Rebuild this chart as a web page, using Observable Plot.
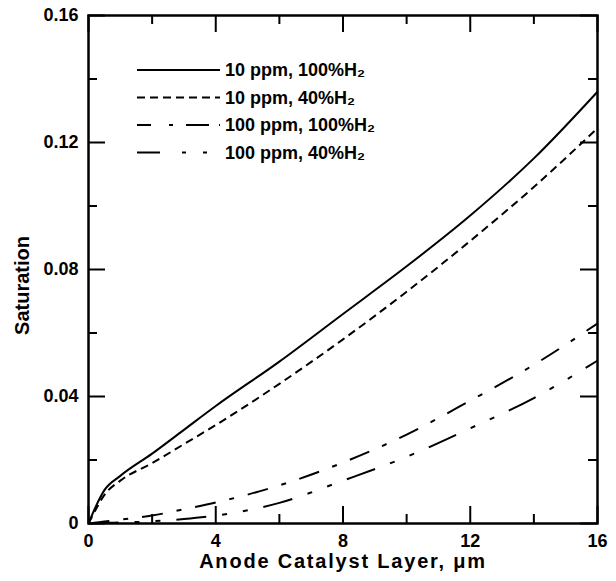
<!DOCTYPE html>
<html>
<head>
<meta charset="utf-8">
<script src="https://cdn.jsdelivr.net/npm/d3@7"></script>
<script src="https://cdn.jsdelivr.net/npm/@observablehq/plot@0.6"></script>
<style>
  body { margin: 0; background: #fff; }
  svg { display: block; }
</style>
</head>
<body>
<div id="chart"></div>
<script>
// Position through the anode catalyst layer (µm)
const depth = [0, 0.25, 0.5, 1, 2, 3, 4, 6, 8, 10, 12, 14, 16];

// Liquid saturation for each CO level / hydrogen dilution
const sat10ppm100 = [0, 0.0058, 0.0105, 0.0150, 0.0220, 0.0295, 0.0370, 0.0510, 0.0660, 0.0810, 0.0970, 0.1150, 0.1360];
const sat10ppm40  = [0, 0.0048, 0.0090, 0.0135, 0.0190, 0.0250, 0.0310, 0.0440, 0.0580, 0.0730, 0.0890, 0.1060, 0.1245];
const sat100ppm100 = [0, 0.0003, 0.0006, 0.0012, 0.0025, 0.0045, 0.0066, 0.0120, 0.0192, 0.0280, 0.0387, 0.0500, 0.0630];
const sat100ppm40  = [0, 0.0001, 0.0002, 0.0003, 0.0007, 0.0014, 0.0025, 0.0065, 0.0135, 0.0210, 0.0300, 0.0395, 0.0513];

const seriesLabels = ["10 ppm, 100%H₂", "10 ppm, 40%H₂", "100 ppm, 100%H₂", "100 ppm, 40%H₂"];
const seriesValues = [sat10ppm100, sat10ppm40, sat100ppm100, sat100ppm40];
const dashPatterns = [null, "8,5", "21,14,5,14", "30,16,5,16,5,16"];
const legendDashes = [null, "8,5", "14,18,4,13,23,10", "23,22,4,17,4,20"];

// Axis ticks
const xMajor = [0, 4, 8, 12, 16];
const xMinor = [2, 6, 10, 14];
const yMajor = [0, 0.04, 0.08, 0.12, 0.16];
const yMinor = [0.02, 0.06, 0.10, 0.14];

const W = 616, H = 581;
const margin = {top: 15, right: 19, bottom: 58, left: 88};
const innerW = W - margin.left - margin.right;
const innerH = H - margin.top - margin.bottom;
const font = "'Liberation Sans', Arial, Helvetica, sans-serif";
const majorLen = 17, minorLen = 9;

const rows = seriesLabels.map((label, i) =>
  depth.map((x, j) => ({x, y: seriesValues[i][j], series: label}))
);

// Legend drawn inside the frame, top-left
function legend(index, scales, values, dimensions) {
  const g = d3.create("svg:g")
    .attr("font-family", font)
    .attr("font-weight", "bold")
    .attr("font-size", 18)
    .attr("text-anchor", "start");
  const x0 = dimensions.marginLeft + 49;
  seriesLabels.forEach((label, i) => {
    const y = dimensions.marginTop + 55 + i * 27.5;
    g.append("line")
      .attr("x1", x0).attr("x2", x0 + 83)
      .attr("y1", y).attr("y2", y)
      .attr("stroke", "#000")
      .attr("stroke-width", 2)
      .attr("stroke-dasharray", legendDashes[i]);
    g.append("text")
      .attr("x", x0 + 88).attr("y", y)
      .attr("dy", "0.36em")
      .attr("text-anchor", "start")
      .attr("fill", "#000")
      .text(label);
  });
  return g.node();
}

const chart = Plot.plot({
  width: W,
  height: H,
  marginTop: margin.top,
  marginRight: margin.right,
  marginBottom: margin.bottom,
  marginLeft: margin.left,
  style: {fontFamily: font, background: "#fff", color: "#000"},
  x: {domain: [0, 16]},
  y: {domain: [0, 0.16]},
  marks: [
    // inward ticks on all four sides
    Plot.ruleX(xMajor, {insetTop: innerH - majorLen, stroke: "#000", strokeWidth: 2}),
    Plot.ruleX(xMinor, {insetTop: innerH - minorLen, stroke: "#000", strokeWidth: 2}),
    Plot.ruleX(xMajor, {insetBottom: innerH - majorLen, stroke: "#000", strokeWidth: 2}),
    Plot.ruleX(xMinor, {insetBottom: innerH - minorLen, stroke: "#000", strokeWidth: 2}),
    Plot.ruleY(yMajor, {insetRight: innerW - majorLen, stroke: "#000", strokeWidth: 2}),
    Plot.ruleY(yMinor, {insetRight: innerW - minorLen, stroke: "#000", strokeWidth: 2}),
    Plot.ruleY(yMajor, {insetLeft: innerW - majorLen, stroke: "#000", strokeWidth: 2}),
    Plot.ruleY(yMinor, {insetLeft: innerW - minorLen, stroke: "#000", strokeWidth: 2}),
    Plot.axisX({
      ticks: xMajor, tickSize: 0, tickPadding: 11, label: null,
      tickFormat: d => String(d),
      fontSize: 18, fontWeight: "bold", fill: "#000"
    }),
    Plot.axisY({
      ticks: yMajor, tickSize: 0, tickPadding: 10, label: null,
      tickFormat: d => d === 0 ? "0" : d.toFixed(2),
      fontSize: 18, fontWeight: "bold", fill: "#000"
    }),
    ...rows.map((data, i) => Plot.line(data, {
      x: "x", y: "y",
      curve: "monotone-x",
      stroke: "#000",
      strokeWidth: 2,
      strokeDasharray: dashPatterns[i],
      strokeLinecap: "butt"
    })),
    Plot.frame({stroke: "#000", strokeWidth: 2.5}),
    legend,
    Plot.text(["Anode Catalyst Layer, μm"], {
      frameAnchor: "bottom", dy: 44,
      textAnchor: "middle", lineAnchor: "bottom",
      fontSize: 20, fontWeight: "bold", fill: "#000",
      style: "letter-spacing: 1.8px",
      text: d => d
    }),
    Plot.text(["Saturation"], {
      frameAnchor: "left", dx: -66, dy: 16, rotate: -90,
      textAnchor: "middle", lineAnchor: "middle",
      fontSize: 20, fontWeight: "bold", fill: "#000",
      text: d => d
    })
  ]
});

// widen the axis title slightly, as in the printed figure
d3.select(chart).selectAll("text")
  .filter(function() { return this.textContent === "Anode Catalyst Layer, μm"; })
  .style("letter-spacing", "1.8px");

document.getElementById("chart").appendChild(chart);
</script>
</body>
</html>
